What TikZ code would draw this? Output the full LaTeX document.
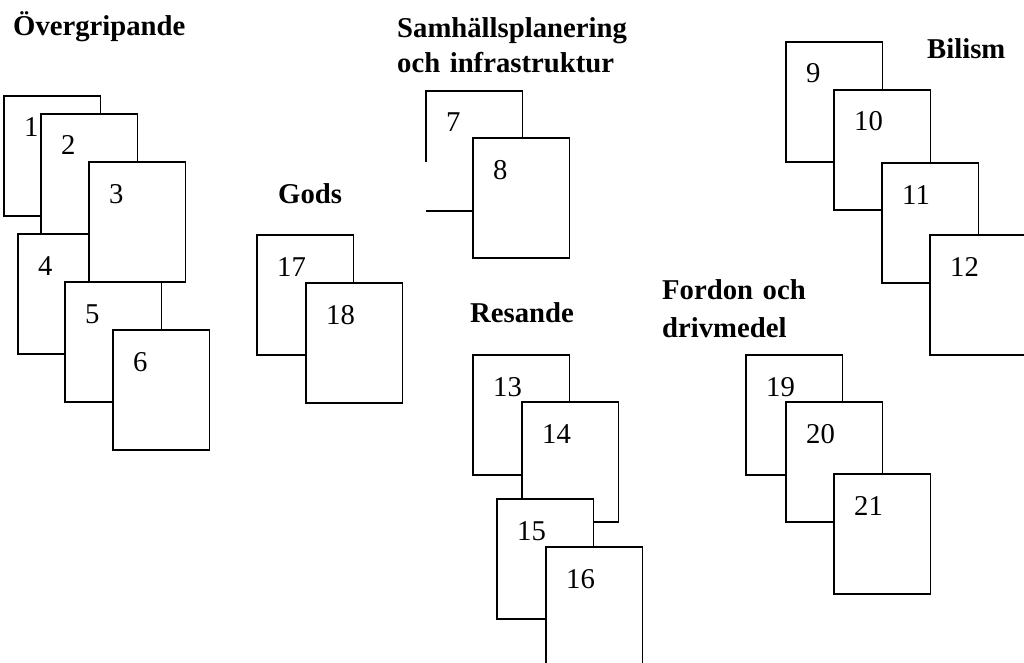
\documentclass[tikz,border=0pt]{standalone}
\usepackage{fontspec}
\setmainfont{Liberation Serif}
\begin{document}
\begin{tikzpicture}[x=1pt,y=-1pt,
  card/.style={rectangle, draw=black, line width=1.6pt, fill=white, anchor=north west,
    minimum width=96.5pt, minimum height=120pt, inner sep=0pt, outer sep=0pt},
  cardfill/.style={card, draw=none},
  num/.style={font=\fontsize{28.7}{32}\selectfont, inner sep=0pt, anchor=base west,
    xshift=20pt, yshift=-41pt},
  title/.style={font=\fontsize{28.7}{35}\selectfont\bfseries, inner sep=0pt, anchor=base west},
  edge/.style={line width=1.6pt, line cap=rect}]
\useasboundingbox (0,0) rectangle (1024,663);
\clip (0,0) rectangle (1024,663);

% titles
\node[title] (tover) at (13,36) {Övergripande};
\node[title, text width=260pt, align=left] (tsamh) at (397,38) {Samhällsplanering\\och infrastruktur};
\node[title] (tgods) at (278,203) {Gods};
\node[title] (tbil) at (927,59) {Bilism};
\node[title] (tres) at (470,322) {Resande};
\node[title, text width=200pt, align=left, font=\fontsize{28.7}{38}\selectfont\bfseries] (tford) at (662,299) {Fordon och\\drivmedel};

% Övergripande
\node[card] (b1) at (4,96) {};   \node[num] (n1) at (b1.north west) {1};
\node[card] (b2) at (41,114) {}; \node[num] (n2) at (b2.north west) {2};
\node[card] (b4) at (18,234) {}; \node[num] (n4) at (b4.north west) {4};
\node[card] (b3) at (89,162) {}; \node[num] (n3) at (b3.north west) {3};
\node[card] (b5) at (65,282) {}; \node[num] (n5) at (b5.north west) {5};
\node[card] (b6) at (113,330) {}; \node[num] (n6) at (b6.north west) {6};

% Samhällsplanering
\node[cardfill] (b7) at (426,91) {};
\draw[edge] ([yshift=-70pt]b7.north west) -- (b7.north west) -- (b7.north east)
  -- (b7.south east) -- ([xshift=1pt]b7.south west);
\node[num] (n7) at (b7.north west) {7};
\node[card] (b8) at (473,138) {}; \node[num] (n8) at (b8.north west) {8};

% Gods
\node[card] (b17) at (257,235) {}; \node[num] (n17) at (b17.north west) {17};
\node[card] (b18) at (306,283) {}; \node[num] (n18) at (b18.north west) {18};

% Bilism
\node[card] (b9) at (786,42) {};   \node[num] (n9) at (b9.north west) {9};
\node[card] (b10) at (834,90) {};  \node[num] (n10) at (b10.north west) {10};
\node[card] (b11) at (882,163) {}; \node[num] (n11) at (b11.north west) {11};
\node[card] (b12) at (930,235) {}; \node[num] (n12) at (b12.north west) {12};

% Resande
\node[card] (b13) at (473,355) {}; \node[num] (n13) at (b13.north west) {13};
\node[card] (b14) at (522,402) {}; \node[num] (n14) at (b14.north west) {14};
\node[card] (b15) at (497,499) {}; \node[num] (n15) at (b15.north west) {15};
\node[card] (b16) at (546,547) {}; \node[num] (n16) at (b16.north west) {16};

% Fordon och drivmedel
\node[card] (b19) at (746,355) {}; \node[num] (n19) at (b19.north west) {19};
\node[card] (b20) at (786,402) {}; \node[num] (n20) at (b20.north west) {20};
\node[card] (b21) at (834,474) {}; \node[num] (n21) at (b21.north west) {21};
\end{tikzpicture}
\end{document}
